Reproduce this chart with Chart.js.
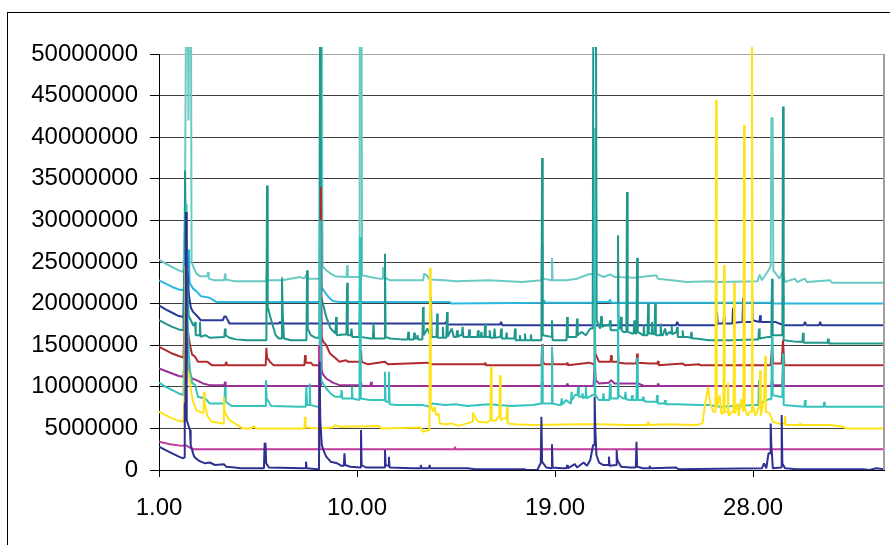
<!DOCTYPE html>
<html>
<head>
<meta charset="utf-8">
<script src="https://cdn.jsdelivr.net/npm/chart.js@4.4.1/dist/chart.umd.min.js"></script>
<style>
  html, body { margin: 0; padding: 0; background: #fff; }
  canvas { display: block; }
</style>
</head>
<body>
<canvas id="chromChart" width="890" height="545"></canvas>
<script>
// retention time ticks and intensity ticks (intensity values below are in millions)
const xTicks = [1, 10, 19, 28];
const yMax = 50000000;
const yStep = 5000000;

// traces, bottom to top, [time, intensity in millions]
const navyLow = [[1.00,2.8],[1.30,2.4],[1.60,2.0],[1.90,1.6],[2.10,1.4],[2.14,1.5],[2.17,8.0],[2.20,8.0],[2.23,31.0],[2.26,6.0],[2.32,5.5],[2.41,4.8],[2.44,3.0],[2.55,2.0],[2.60,1.6],[2.77,1.2],[2.90,1.0],[3.10,0.8],[3.30,0.9],[3.55,0.6],[3.95,0.7],[4.05,0.4],[4.45,0.3],[4.70,0.2],[5.77,0.2],[5.80,3.2],[5.84,3.2],[5.87,0.8],[6.00,0.3],[7.50,0.2],[7.65,0.2],[7.68,1.0],[7.71,0.2],[8.20,0.1],[8.27,0.0],[8.30,13.0],[8.33,6.0],[8.40,3.0],[8.50,2.2],[8.60,1.6],[8.80,1.0],[9.10,0.8],[9.30,0.5],[9.40,0.5],[9.43,2.0],[9.46,0.6],[9.70,0.4],[10.15,0.3],[10.18,4.8],[10.21,0.6],[10.40,0.3],[11.24,0.3],[11.27,2.4],[11.30,0.6],[11.42,0.5],[11.45,1.6],[11.48,0.3],[12.50,0.2],[12.87,0.2],[12.90,0.6],[12.93,0.2],[13.27,0.2],[13.30,0.6],[13.33,0.2],[15.00,0.2],[15.40,0.1],[17.60,0.1],[17.70,0.0],[18.20,0.0],[18.30,0.6],[18.35,0.8],[18.38,6.4],[18.41,1.0],[18.60,0.3],[18.83,0.2],[18.86,3.1],[18.89,0.3],[19.30,0.2],[19.52,0.2],[19.55,0.6],[19.58,0.2],[19.90,0.7],[20.00,0.3],[20.30,0.9],[20.45,0.5],[20.60,1.2],[20.73,3.0],[20.77,3.0],[20.80,8.8],[20.83,5.0],[20.88,1.8],[21.00,0.9],[21.20,0.6],[21.42,0.6],[21.45,1.6],[21.48,0.5],[21.77,0.6],[21.80,2.4],[21.83,1.2],[22.00,0.4],[22.40,0.3],[22.67,0.3],[22.70,3.4],[22.73,0.4],[23.00,0.2],[23.27,0.2],[23.30,0.5],[23.33,0.2],[24.50,0.3],[24.60,0.1],[28.40,0.2],[28.50,0.8],[28.60,0.2],[28.70,2.0],[28.77,2.0],[28.80,5.6],[28.83,3.0],[28.90,0.2],[29.27,0.3],[29.30,6.6],[29.33,0.8],[29.45,0.2],[30.00,0.1],[33.00,0.1],[33.30,0.0],[33.60,0.2],[33.95,0.1]];

const magenta = [[1.00,3.4],[1.50,3.1],[2.05,2.9],[2.20,3.0],[2.40,2.7],[2.55,2.5],[8.24,2.5],[8.27,15.0],[8.30,2.5],[14.42,2.5],[14.45,2.8],[14.48,2.5],[33.95,2.5]];

const yellow = [[1.00,7.0],[1.30,6.6],[1.60,6.2],[1.90,5.9],[2.11,5.8],[2.15,8.0],[2.20,24.5],[2.23,14.0],[2.30,12.0],[2.36,11.5],[2.45,9.6],[2.55,8.2],[2.70,7.2],[2.86,7.0],[3.02,6.8],[3.05,9.4],[3.08,8.0],[3.20,6.5],[3.40,5.8],[3.92,5.6],[3.95,8.8],[3.98,7.0],[4.20,6.0],[4.45,5.6],[4.80,5.0],[5.20,5.0],[5.30,5.3],[5.40,5.0],[7.61,5.0],[7.64,6.4],[7.67,5.1],[8.30,5.0],[8.90,5.1],[9.00,5.4],[9.20,5.2],[11.00,5.3],[11.10,5.0],[12.90,5.1],[13.00,4.6],[13.29,4.8],[13.32,24.3],[13.35,7.8],[13.45,7.0],[13.52,7.6],[13.60,6.6],[13.70,6.8],[13.77,5.6],[14.00,5.5],[14.30,5.6],[14.60,5.3],[15.00,5.6],[15.24,5.8],[15.27,6.9],[15.40,6.2],[15.50,5.8],[15.90,5.7],[16.06,6.0],[16.09,12.4],[16.12,6.0],[16.30,5.9],[16.45,6.5],[16.47,6.3],[16.50,11.4],[16.53,6.0],[16.70,6.2],[16.79,6.2],[16.82,7.6],[16.85,5.6],[17.20,5.5],[18.00,5.4],[20.00,5.5],[21.00,5.5],[22.30,5.4],[23.20,5.4],[23.23,5.8],[23.26,5.4],[24.00,5.5],[25.45,5.4],[25.70,5.6],[25.82,8.0],[25.95,10.0],[26.05,8.0],[26.20,7.0],[26.29,7.0],[26.32,44.5],[26.35,7.5],[26.48,9.0],[26.55,6.8],[26.65,6.8],[26.68,24.6],[26.71,7.0],[26.83,7.0],[26.86,10.5],[26.89,6.5],[27.05,7.0],[27.11,7.0],[27.14,22.5],[27.17,6.8],[27.28,8.0],[27.35,6.5],[27.45,8.5],[27.56,7.0],[27.59,41.5],[27.62,7.5],[27.75,6.5],[27.86,7.0],[27.92,7.0],[27.95,55.0],[27.98,8.0],[28.10,6.5],[28.15,6.8],[28.25,7.5],[28.29,7.5],[28.32,12.0],[28.35,6.5],[28.50,8.5],[28.52,8.5],[28.55,13.7],[28.58,7.0],[28.75,6.8],[28.90,5.8],[29.10,5.6],[29.42,5.6],[29.45,6.5],[29.48,5.4],[30.11,5.4],[30.14,5.6],[30.17,5.4],[31.50,5.4],[32.10,5.2],[32.20,5.0],[33.95,5.0]];

const turquoise = [[1.00,10.5],[1.30,10.0],[1.60,9.6],[1.90,9.2],[2.11,9.0],[2.15,14.0],[2.25,32.0],[2.28,20.0],[2.35,14.0],[2.41,12.0],[2.50,10.5],[2.64,10.2],[2.77,8.8],[3.10,8.6],[3.30,8.0],[3.97,8.0],[4.00,10.0],[4.03,8.2],[4.30,7.7],[5.83,7.7],[5.86,10.8],[5.89,8.6],[6.10,7.7],[7.40,7.6],[7.67,7.6],[7.70,10.0],[7.73,7.8],[7.82,7.8],[7.85,10.4],[7.88,7.8],[8.20,7.6],[8.29,7.6],[8.32,30.0],[8.35,11.0],[8.45,10.4],[8.60,9.8],[8.80,9.2],[9.00,8.8],[9.27,8.8],[9.30,9.6],[9.33,8.6],[9.74,8.6],[9.77,10.0],[9.80,8.6],[10.11,8.4],[10.14,28.0],[10.17,8.6],[10.60,8.4],[11.24,8.4],[11.27,11.8],[11.30,8.2],[11.42,8.2],[11.45,11.8],[11.48,7.9],[11.80,7.8],[13.00,7.8],[13.30,7.6],[13.40,8.0],[14.00,7.8],[14.50,7.9],[15.00,7.7],[16.00,7.9],[17.00,7.7],[18.00,7.8],[18.38,8.0],[18.41,15.0],[18.44,8.0],[18.83,8.0],[18.86,14.8],[18.89,8.0],[19.20,7.8],[19.27,7.8],[19.30,8.6],[19.33,7.9],[19.50,8.4],[19.70,8.0],[19.72,8.2],[19.75,9.4],[19.78,8.4],[19.90,9.0],[20.02,9.0],[20.05,10.0],[20.08,8.8],[20.22,8.8],[20.25,9.2],[20.28,8.6],[20.37,8.8],[20.40,10.0],[20.43,8.6],[20.70,9.0],[20.77,9.0],[20.80,33.0],[20.83,9.0],[21.00,8.4],[21.17,8.4],[21.20,9.2],[21.23,8.4],[21.47,8.4],[21.50,10.4],[21.53,8.6],[21.83,8.6],[21.86,20.0],[21.89,9.0],[22.10,8.6],[22.17,8.6],[22.20,9.4],[22.23,8.5],[22.40,8.4],[22.47,8.4],[22.50,9.0],[22.53,8.4],[22.70,8.4],[22.73,13.5],[22.76,8.4],[22.97,8.4],[23.00,8.8],[23.03,8.3],[23.20,8.2],[23.61,8.2],[23.64,9.0],[23.67,8.0],[23.97,8.0],[24.00,8.4],[24.03,7.9],[24.50,7.9],[25.60,7.8],[26.00,7.8],[26.50,7.6],[28.00,7.8],[28.24,7.8],[28.27,10.8],[28.30,8.0],[28.70,8.5],[28.83,8.5],[28.86,16.0],[28.89,9.0],[29.20,8.8],[29.33,8.8],[29.36,14.0],[29.39,7.8],[30.33,7.6],[30.36,8.4],[30.39,7.6],[31.20,7.6],[31.23,8.2],[31.26,7.6],[33.95,7.6]];

const purple = [[1.00,12.2],[1.30,11.9],[1.60,11.6],[1.90,11.3],[2.11,11.2],[2.18,14.0],[2.27,16.0],[2.30,12.5],[2.40,11.5],[2.50,11.0],[2.70,10.8],[3.00,10.4],[3.30,10.2],[3.97,10.2],[4.00,10.6],[4.03,10.1],[5.83,10.1],[5.86,10.6],[5.89,10.1],[8.33,10.1],[8.36,20.0],[8.39,12.0],[8.45,11.5],[8.60,11.0],[8.90,10.5],[9.20,10.2],[10.15,10.2],[10.18,10.6],[10.21,10.1],[10.61,10.1],[10.64,10.6],[10.67,10.1],[18.38,10.1],[18.41,10.6],[18.44,10.1],[18.83,10.1],[18.86,10.5],[18.89,10.1],[19.52,10.1],[19.55,10.4],[19.58,10.1],[20.75,10.1],[20.80,13.0],[20.85,10.8],[21.00,10.4],[21.45,10.5],[21.55,10.8],[21.70,10.4],[22.40,10.4],[22.77,10.4],[23.05,10.1],[23.65,10.1],[23.68,10.4],[23.71,10.1],[28.83,10.1],[28.86,10.7],[28.89,10.2],[29.33,10.2],[29.36,12.4],[29.39,10.1],[33.95,10.1]];

const darkRed = [[1.00,14.8],[1.30,14.4],[1.60,14.0],[1.90,13.7],[2.11,13.5],[2.16,17.0],[2.23,22.5],[2.26,18.0],[2.35,16.0],[2.41,15.0],[2.50,13.9],[2.64,13.6],[2.77,13.0],[3.20,13.0],[3.40,12.6],[4.02,12.6],[4.05,13.0],[4.10,12.6],[5.85,12.6],[5.88,14.7],[5.91,13.5],[6.05,13.0],[6.20,12.6],[7.61,12.6],[7.64,13.8],[7.67,12.9],[7.90,12.9],[8.00,12.6],[8.33,12.6],[8.36,34.0],[8.39,16.0],[8.45,15.5],[8.60,15.0],[8.77,14.0],[9.00,13.5],[9.20,13.0],[9.50,13.2],[9.60,13.0],[10.15,13.0],[10.18,14.4],[10.21,13.0],[10.50,12.7],[11.27,13.0],[11.40,12.7],[13.20,12.9],[13.40,12.7],[15.79,12.7],[15.82,12.9],[15.85,12.6],[18.38,12.6],[18.41,15.1],[18.44,13.0],[18.55,12.7],[18.83,12.7],[18.86,14.4],[18.89,12.7],[19.52,12.7],[19.55,12.9],[19.58,12.6],[20.55,12.9],[20.77,12.7],[20.80,17.2],[20.83,14.0],[21.00,13.0],[21.40,13.0],[21.52,13.0],[21.55,13.8],[21.58,13.0],[21.83,13.0],[21.86,14.0],[21.89,12.9],[22.20,12.8],[22.70,12.8],[22.73,14.0],[22.76,12.9],[23.30,12.8],[23.65,12.8],[23.68,13.1],[23.71,12.6],[24.80,12.8],[24.90,12.6],[25.55,12.7],[25.60,12.6],[28.80,12.6],[28.86,14.8],[28.92,12.8],[29.30,12.8],[29.36,15.6],[29.42,12.6],[33.95,12.6]];

const teal = [[1.00,18.0],[1.30,17.6],[1.60,17.2],[1.90,16.9],[2.11,16.8],[2.14,24.0],[2.18,36.0],[2.21,30.0],[2.28,22.0],[2.35,18.5],[2.45,18.0],[2.55,17.4],[2.61,17.4],[2.64,17.8],[2.67,16.2],[2.83,16.2],[2.86,17.8],[2.89,16.0],[3.10,16.2],[3.30,15.9],[3.97,16.0],[4.00,17.0],[4.03,16.2],[4.20,15.9],[4.50,15.7],[5.00,15.6],[5.88,15.6],[5.91,34.2],[5.94,19.6],[6.10,18.0],[6.30,16.2],[6.45,15.8],[6.56,15.8],[6.59,23.0],[6.62,19.0],[6.68,15.8],[7.00,15.6],[7.70,15.6],[7.73,24.0],[7.76,17.0],[7.90,16.2],[8.10,15.9],[8.29,15.9],[8.32,55.0],[8.35,21.0],[8.45,20.0],[8.60,18.4],[8.80,17.0],[9.02,16.4],[9.05,18.4],[9.08,16.2],[9.40,16.3],[9.52,16.3],[9.55,22.5],[9.58,16.2],[9.72,16.2],[9.75,17.0],[9.78,16.0],[10.11,16.0],[10.14,28.0],[10.17,16.0],[10.60,15.8],[10.72,15.8],[10.75,17.6],[10.78,15.8],[11.24,15.8],[11.27,26.0],[11.30,16.0],[11.50,15.8],[12.00,15.7],[12.30,15.7],[12.33,16.6],[12.36,15.7],[12.57,15.7],[12.60,16.5],[12.63,15.8],[12.72,15.8],[12.75,16.2],[12.78,15.7],[12.97,15.7],[13.00,19.6],[13.03,16.2],[13.20,17.0],[13.33,16.2],[13.36,20.8],[13.39,16.0],[13.61,16.0],[13.64,18.8],[13.67,15.9],[13.87,15.9],[13.90,17.2],[13.93,15.9],[14.06,15.9],[14.09,19.0],[14.12,16.0],[14.30,17.0],[14.40,16.0],[14.52,16.0],[14.55,16.8],[14.58,16.0],[14.70,16.2],[14.77,16.2],[14.80,17.2],[14.83,16.0],[15.07,16.0],[15.10,16.9],[15.13,16.0],[15.30,16.0],[15.47,16.0],[15.50,16.8],[15.53,16.0],[15.62,16.0],[15.65,16.6],[15.68,16.0],[15.79,16.0],[15.82,17.6],[15.85,16.0],[16.00,16.0],[16.03,16.8],[16.06,15.9],[16.22,15.9],[16.25,17.0],[16.28,15.9],[16.52,16.0],[16.55,17.0],[16.58,15.8],[16.77,15.8],[16.80,16.5],[16.83,15.8],[17.15,15.8],[17.18,17.0],[17.21,15.6],[17.37,15.6],[17.40,16.2],[17.43,15.6],[17.60,15.6],[17.63,16.4],[17.66,15.6],[17.87,15.6],[17.90,16.3],[17.93,15.6],[18.38,15.6],[18.41,37.5],[18.44,16.2],[18.83,16.0],[18.86,18.0],[18.89,15.6],[19.52,15.6],[19.55,18.4],[19.58,16.0],[19.97,16.0],[20.00,18.2],[20.03,16.2],[20.20,16.6],[20.40,16.2],[20.60,17.0],[20.71,17.0],[20.74,55.0],[20.86,55.0],[20.89,18.0],[21.05,17.0],[21.07,17.0],[21.10,18.5],[21.13,17.2],[21.30,17.4],[21.47,17.4],[21.50,18.0],[21.53,16.8],[21.83,16.8],[21.86,28.2],[21.89,17.0],[21.97,17.0],[22.00,18.4],[22.03,16.8],[22.10,16.6],[22.24,16.6],[22.27,33.4],[22.30,16.6],[22.50,16.4],[22.57,16.4],[22.60,18.0],[22.63,16.4],[22.70,16.4],[22.73,25.5],[22.76,16.6],[23.00,16.2],[23.03,17.5],[23.06,16.2],[23.20,16.2],[23.23,20.0],[23.26,16.4],[23.37,16.4],[23.40,17.8],[23.43,16.3],[23.52,16.4],[23.55,20.0],[23.58,16.2],[23.77,16.2],[23.80,17.6],[23.83,16.2],[23.90,16.2],[24.00,17.0],[24.06,16.2],[24.20,16.6],[24.27,16.4],[24.30,17.3],[24.33,16.3],[24.52,16.6],[24.55,17.2],[24.58,16.0],[24.77,16.0],[24.80,16.8],[24.83,16.0],[25.00,16.0],[25.17,15.9],[25.20,16.6],[25.23,15.8],[25.40,15.8],[26.00,15.6],[27.00,15.6],[28.10,15.7],[28.24,15.7],[28.27,17.0],[28.30,15.8],[28.70,16.0],[28.83,16.0],[28.86,23.0],[28.89,16.2],[29.33,16.2],[29.36,43.7],[29.39,15.6],[30.00,15.4],[30.24,15.4],[30.27,16.5],[30.30,15.3],[31.00,15.3],[31.38,15.3],[31.41,15.8],[31.44,15.2],[33.95,15.2]];

const navyHigh = [[1.00,19.8],[1.30,19.3],[1.60,18.9],[1.90,18.5],[2.11,18.4],[2.18,25.0],[2.27,27.0],[2.30,24.0],[2.36,21.0],[2.45,19.5],[2.55,19.0],[2.70,18.6],[2.90,18.0],[3.90,18.0],[3.98,18.5],[4.05,18.4],[4.20,17.6],[6.45,17.6],[6.50,17.8],[6.55,17.6],[8.31,17.6],[8.34,24.0],[8.37,17.6],[14.00,17.6],[14.05,17.8],[14.10,17.5],[16.50,17.5],[16.55,17.8],[16.60,17.4],[24.50,17.4],[24.55,17.8],[24.62,17.4],[26.33,17.4],[26.36,19.0],[26.39,17.6],[26.65,17.6],[26.68,18.4],[26.71,17.6],[27.06,17.6],[27.09,19.5],[27.12,17.7],[27.52,17.8],[27.55,20.7],[27.58,17.8],[27.92,17.8],[27.95,21.9],[27.98,18.0],[28.29,17.8],[28.32,18.6],[28.35,17.8],[29.00,17.8],[29.40,17.4],[30.30,17.4],[30.36,17.8],[30.42,17.4],[31.00,17.4],[31.05,17.8],[31.10,17.4],[33.95,17.4]];

const skyBlue = [[1.00,22.8],[1.30,22.4],[1.60,22.0],[1.90,21.7],[2.11,21.6],[2.27,24.0],[2.36,26.5],[2.39,22.5],[2.55,21.8],[2.70,21.5],[2.90,20.9],[3.30,20.7],[3.60,20.2],[8.33,20.2],[8.36,40.0],[8.39,22.0],[8.50,21.5],[8.70,20.8],[8.90,20.3],[9.20,20.2],[14.20,20.2],[14.30,20.0],[18.45,20.1],[18.50,20.4],[18.55,20.1],[20.77,20.1],[20.82,22.0],[20.87,20.2],[21.45,20.2],[21.50,20.5],[21.55,20.1],[28.83,20.1],[28.86,20.5],[28.89,20.0],[29.33,20.0],[29.36,21.0],[29.39,20.0],[33.95,20.0]];

const lightTeal = [[1.00,25.3],[1.30,24.8],[1.60,24.4],[1.90,24.0],[2.11,23.8],[2.18,32.0],[2.24,60.0],[2.30,60.0],[2.34,42.0],[2.38,60.0],[2.45,60.0],[2.48,25.0],[2.55,24.5],[2.70,23.6],[2.86,23.3],[3.20,23.3],[3.23,23.8],[3.26,23.0],[3.50,22.8],[3.97,22.8],[4.00,23.6],[4.03,22.9],[4.40,22.7],[5.88,22.7],[5.91,25.0],[5.94,22.8],[6.56,22.8],[6.59,23.2],[6.62,22.8],[7.40,23.2],[7.60,23.0],[7.70,23.5],[7.80,23.0],[8.30,23.0],[8.33,60.0],[8.40,60.0],[8.43,24.5],[8.60,24.0],[8.80,23.6],[9.00,23.3],[9.52,23.2],[9.55,24.6],[9.58,23.2],[10.09,23.2],[10.12,60.0],[10.20,60.0],[10.23,23.4],[10.60,23.2],[11.00,23.0],[11.15,23.0],[11.18,24.4],[11.21,23.2],[11.50,22.8],[13.00,22.8],[13.05,23.6],[13.20,23.3],[13.30,22.9],[14.00,22.8],[14.50,22.7],[16.00,22.8],[17.50,22.6],[18.38,22.8],[18.41,27.0],[18.44,23.0],[18.83,22.8],[18.86,25.5],[18.89,22.8],[19.50,22.8],[20.00,23.0],[20.50,23.5],[20.77,23.6],[20.80,41.0],[20.85,41.0],[20.88,23.6],[21.20,23.2],[21.50,23.5],[21.70,23.2],[21.83,23.2],[21.86,24.0],[21.89,23.2],[22.60,23.1],[23.60,23.4],[23.68,23.0],[24.00,22.9],[25.00,22.6],[26.00,22.7],[26.40,22.6],[28.20,22.7],[28.30,23.5],[28.40,22.8],[28.70,24.0],[28.80,24.5],[28.83,42.3],[28.89,42.3],[28.92,24.0],[29.20,23.0],[29.36,24.0],[29.45,22.6],[29.91,23.0],[30.00,22.6],[30.36,23.0],[30.45,22.6],[31.50,22.8],[31.60,22.5],[33.95,22.5]];

const traces = [navyLow, magenta, yellow, turquoise, purple, darkRed, teal, navyHigh, skyBlue, lightTeal];
const traceColors = ['#2E3192', '#C4399E', '#FFE31A', '#33C3BC', '#9A2F96', '#B22A2E', '#1E978C', '#2B3A98', '#29B8E0', '#6AC9C2'];

const FONT = "Arial, 'Liberation Sans', sans-serif";

const frame = {
    id: 'frame',
    beforeDraw(chart) {
        const c = chart.ctx;
        c.save();
        c.fillStyle = '#fff';
        c.fillRect(0, 0, chart.width, chart.height);
        c.strokeStyle = '#000';
        c.lineWidth = 1;
        c.strokeRect(7.5, 12.5, 900, 600);
        c.restore();
    },
    afterDatasetsDraw(chart) {
        const a = chart.chartArea;
        const c = chart.ctx;
        c.save();
        c.strokeStyle = '#a0a0a0';
        c.lineWidth = 2;
        c.beginPath();
        c.moveTo(a.right, a.top);
        c.lineTo(a.right, a.bottom);
        c.stroke();
        c.restore();
    }
};

new Chart(document.getElementById('chromChart').getContext('2d'), {
    type: 'line',
    data: {
        datasets: traces.map((tr, i) => ({
            data: tr.map(p => ({ x: p[0], y: p[1] * 1000000 })),
            borderColor: traceColors[i],
            borderWidth: 2,
            borderJoinStyle: 'bevel',
            pointRadius: 0,
            tension: 0,
            fill: false,
            clip: { left: 0, top: 7, right: 0, bottom: 0 }
        }))
    },
    options: {
        responsive: false,
        animation: false,
        events: [],
        layout: { padding: { left: 0, top: 54, right: 6, bottom: 0 } },
        plugins: { legend: { display: false }, tooltip: { enabled: false } },
        scales: {
            x: {
                type: 'linear',
                min: 1,
                max: 33.95,
                afterBuildTicks: axis => { axis.ticks = xTicks.map(v => ({ value: v })); },
                afterFit: axis => { axis.height = 75; },
                ticks: {
                    callback: v => Number(v).toFixed(2),
                    color: '#000',
                    font: { family: FONT, size: 24 },
                    padding: 17,
                    maxRotation: 0
                },
                grid: { drawOnChartArea: false, drawTicks: true, tickLength: 7, color: '#000' },
                border: { display: true, color: '#000', width: 1 }
            },
            y: {
                min: 0,
                max: yMax,
                afterFit: axis => { axis.width = 159; },
                ticks: {
                    stepSize: yStep,
                    callback: v => String(v),
                    color: '#000',
                    font: { family: FONT, size: 24 },
                    padding: 12
                },
                grid: {
                    color: ctx => (ctx.tick && ctx.tick.value === yMax) ? '#a6a6a6' : '#404040',
                    tickColor: '#000',
                    tickLength: 9,
                    lineWidth: 1
                },
                border: { display: true, color: '#000', width: 1 }
            }
        }
    },
    plugins: [frame]
});
</script>
</body>
</html>
